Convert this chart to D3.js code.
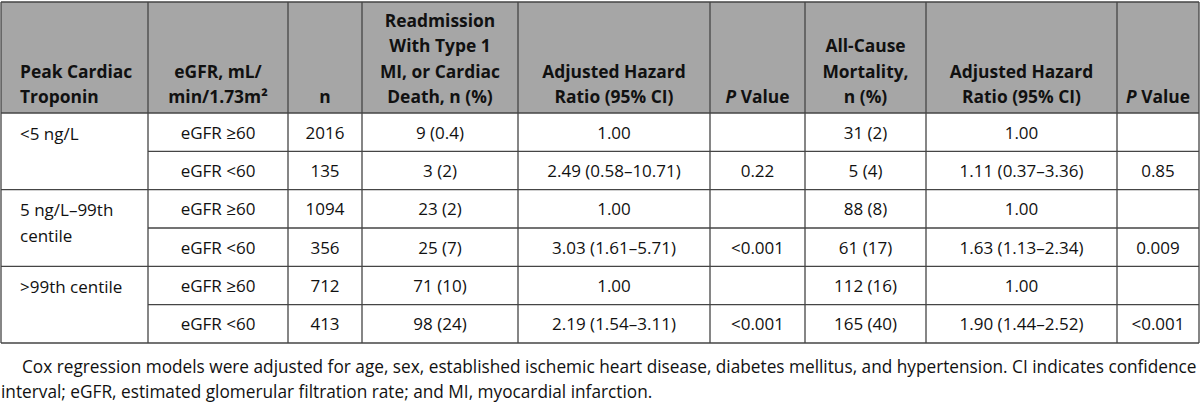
<!DOCTYPE html>
<html>
<head>
<meta charset="utf-8">
<script src="https://cdn.jsdelivr.net/npm/d3@7"></script>
<style>
  html, body { margin: 0; padding: 0; background: #ffffff; }
  svg { display: block; }
  text { font-family: "Open Sans", "Noto Sans", sans-serif; fill: #111111; }
</style>
</head>
<body>
<svg id="chart" width="1200" height="405"></svg>
<script>
// ---------------- data ----------------
const headers = [
  ["Peak Cardiac", "Troponin"],
  ["eGFR, mL/", "min/1.73m²"],
  ["n"],
  ["Readmission", "With Type 1", "MI, or Cardiac", "Death, n (%)"],
  ["Adjusted Hazard", "Ratio (95% CI)"],
  ["P Value"],
  ["All-Cause", "Mortality,", "n (%)"],
  ["Adjusted Hazard", "Ratio (95% CI)"],
  ["P Value"]
];
const troponinGroups = [["<5 ng/L"], ["5 ng/L–99th", "centile"], [">99th centile"]];
const egfrGroups = ["eGFR ≥60", "eGFR <60", "eGFR ≥60", "eGFR <60", "eGFR ≥60", "eGFR <60"];
const nValues = ["2016", "135", "1094", "356", "712", "413"];
const readmission = ["9 (0.4)", "3 (2)", "23 (2)", "25 (7)", "71 (10)", "98 (24)"];
const hrReadmission = ["1.00", "2.49 (0.58–10.71)", "1.00", "3.03 (1.61–5.71)", "1.00", "2.19 (1.54–3.11)"];
const pReadmission = ["", "0.22", "", "<0.001", "", "<0.001"];
const mortality = ["31 (2)", "5 (4)", "88 (8)", "61 (17)", "112 (16)", "165 (40)"];
const hrMortality = ["1.00", "1.11 (0.37–3.36)", "1.00", "1.63 (1.13–2.34)", "1.00", "1.90 (1.44–2.52)"];
const pMortality = ["", "0.85", "", "0.009", "", "<0.001"];
const footnote = [
  "Cox regression models were adjusted for age, sex, established ischemic heart disease, diabetes mellitus, and hypertension. CI indicates confidence",
  "interval; eGFR, estimated glomerular filtration rate; and MI, myocardial infarction."
];

// ---------------- layout ----------------
const svg = d3.select("#chart");
const colEdges = [1, 148, 288, 362, 518, 710, 805, 926, 1117, 1199];
const colIdx = d3.range(colEdges.length);
const xEdge = d3.scaleLinear().domain(colIdx).range(colEdges);
const xCenter = i => (xEdge(i) + xEdge(i + 1)) / 2;

const headerTop = 2, headerBottom = 113, tableBottom = 343;
const nRows = nValues.length;
const y = d3.scaleBand().domain(d3.range(nRows)).range([headerBottom, tableBottom]);

const bodySize = 17;
const headSize = 17.4;
const lineH = 25.3;
const lineColor = "#454545";

svg.append("rect").attr("width", 1200).attr("height", 405).attr("fill", "#ffffff");

// header background
svg.append("rect")
  .attr("x", xEdge(0)).attr("y", headerTop)
  .attr("width", xEdge(9) - xEdge(0)).attr("height", headerBottom - headerTop)
  .attr("fill", "#a6a6a6");

// header text (bottom aligned)
headers.forEach((lines, c) => {
  const t = svg.append("text")
    .attr("font-size", headSize)
    .attr("font-weight", 700)
    .attr("text-anchor", c === 0 ? "start" : "middle");
  const xx = c === 0 ? 20 : xCenter(c);
  const lastBaseline = 103;
  lines.forEach((ln, k) => {
    const ts = t.append("tspan")
      .attr("x", xx)
      .attr("y", lastBaseline - (lines.length - 1 - k) * lineH);
    if (ln === "P Value") {
      ts.append("tspan").attr("font-style", "italic").text("P");
      ts.append("tspan").text(" Value");
    } else {
      ts.text(ln);
    }
  });
});

// body cells
const bodyCols = [egfrGroups, nValues, readmission, hrReadmission, pReadmission, mortality, hrMortality, pMortality];
const baselineOffset = 6.5;
bodyCols.forEach((arr, k) => {
  const c = k + 1;
  svg.append("g").selectAll("text")
    .data(arr)
    .join("text")
    .attr("font-size", bodySize)
    .attr("text-anchor", "middle")
    .attr("x", xCenter(c))
    .attr("y", (d, i) => y(i) + y.bandwidth() / 2 + baselineOffset)
    .text(d => d);
});

// first column groups
troponinGroups.forEach((lines, g) => {
  const r = g * 2;
  const t = svg.append("text").attr("font-size", bodySize).attr("text-anchor", "start");
  lines.forEach((ln, k) => {
    t.append("tspan")
      .attr("x", 20)
      .attr("y", y(r) + y.bandwidth() / 2 + baselineOffset + 1 + k * lineH)
      .text(ln);
  });
});

// grid lines
const grid = svg.append("g").attr("stroke", lineColor).attr("fill", "none");
grid.selectAll("line.v")
  .data(colIdx)
  .join("line")
  .attr("class", "v")
  .attr("x1", i => xEdge(i)).attr("x2", i => xEdge(i))
  .attr("y1", headerTop).attr("y2", tableBottom)
  .attr("stroke-width", 1.3);
[headerTop, headerBottom, tableBottom].forEach(yy => {
  grid.append("line").attr("x1", xEdge(0)).attr("x2", xEdge(9))
    .attr("y1", yy).attr("y2", yy).attr("stroke-width", 1.3);
});
d3.range(1, nRows).forEach(i => {
  const full = i % 2 === 0;
  grid.append("line")
    .attr("x1", full ? xEdge(0) : xEdge(1)).attr("x2", xEdge(9))
    .attr("y1", y(i)).attr("y2", y(i))
    .attr("stroke-width", 1.3);
});

// footnote, sized so the first line spans from the indent to the right edge
let footSize = 17.5;
const f1 = svg.append("text").attr("font-size", footSize).attr("x", 22).attr("y", 373).text(footnote[0]);
const measured = f1.node().getComputedTextLength();
if (measured > 0) {
  footSize = footSize * 1175 / measured;
  f1.attr("font-size", footSize);
}
svg.append("text").attr("font-size", footSize).attr("x", 1).attr("y", 398).text(footnote[1]);
</script>
</body>
</html>
